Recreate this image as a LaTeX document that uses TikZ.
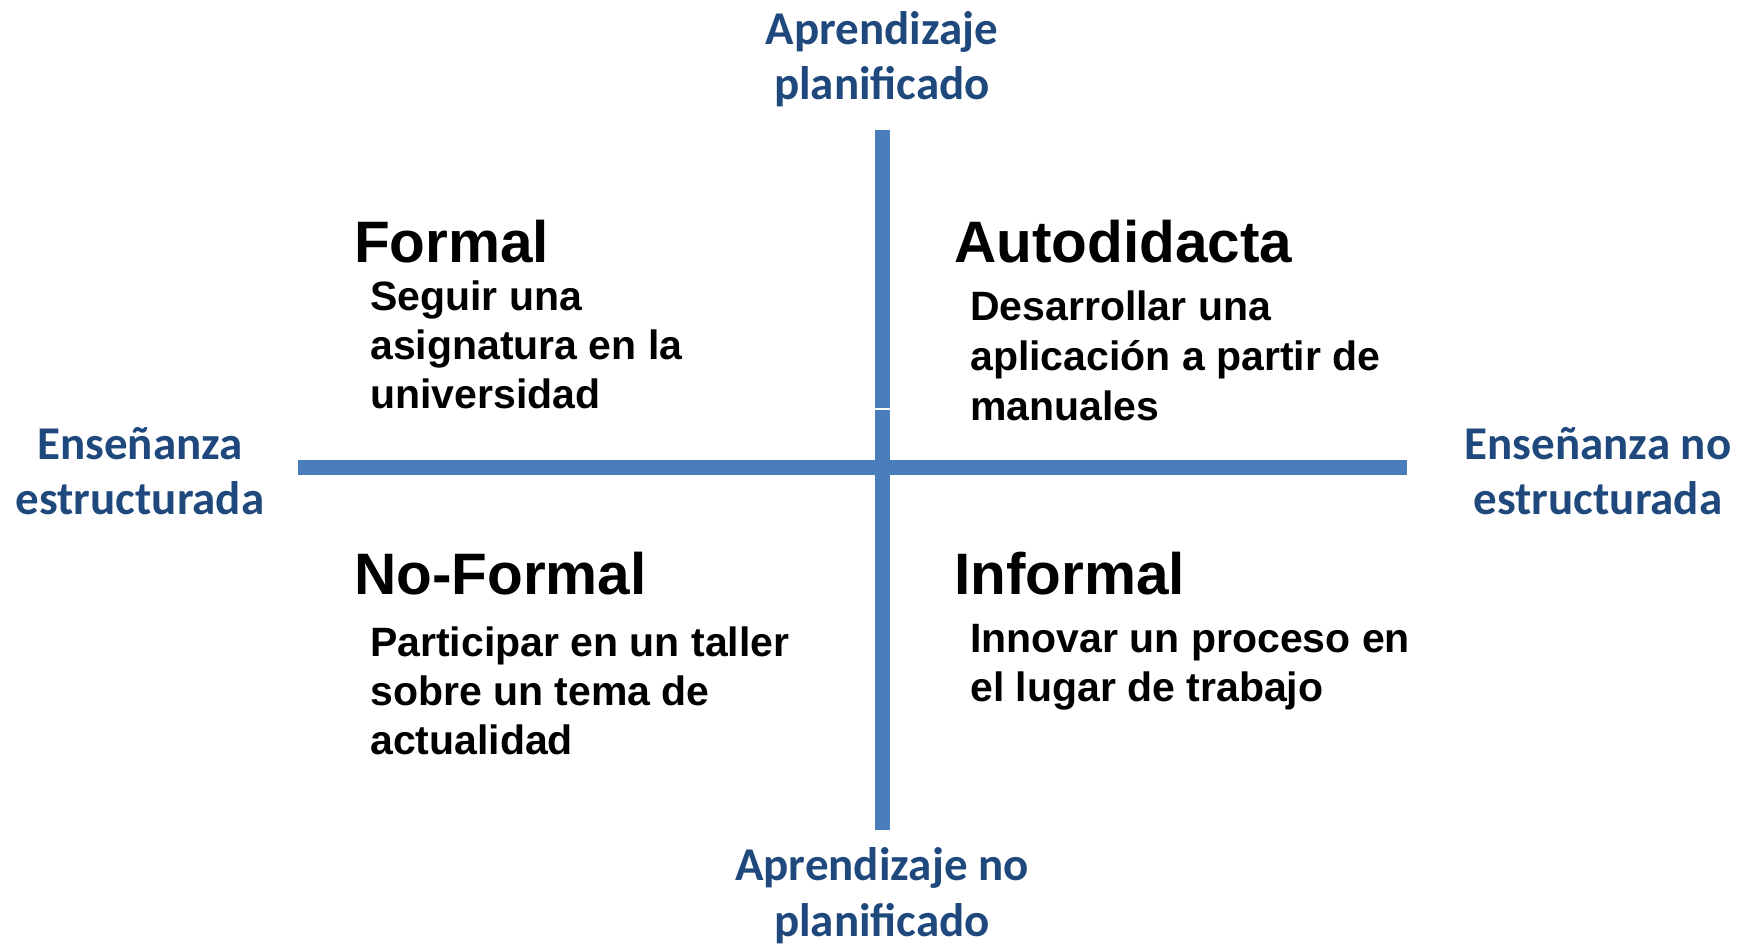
\documentclass[tikz,border=0pt]{standalone}
\usepackage{fontspec}
\setmainfont{Liberation Sans}
\newfontfamily\calfont{Carlito}
\definecolor{axisblue}{HTML}{4A7EBB}
\definecolor{labelblue}{HTML}{1F497D}
\begin{document}
\begin{tikzpicture}[x=1pt,y=-1pt,
  axis/.style={draw=axisblue,line width=15pt},
  lbl/.style={inner sep=0pt,anchor=base,text=labelblue,font=\calfont\bfseries\fontsize{47}{55}\selectfont},
  ttl/.style={inner sep=0pt,anchor=base west,font=\bfseries\fontsize{58.5}{66}\selectfont},
  body/.style={inner sep=0pt,anchor=base west,font=\bfseries\fontsize{41}{49}\selectfont}]
\useasboundingbox (0,0) rectangle (1744,943);
% axes
\coordinate (vt) at (882.5,130);
\coordinate (vm1) at (882.5,408);
\coordinate (vm2) at (882.5,409.5);
\coordinate (vb) at (882.5,830);
\coordinate (hl) at (298,467.5);
\coordinate (hr) at (1407,467.5);
\draw[axis] (vt) -- (vm1);
\draw[axis] (vm2) -- (vb);
\draw[axis] (hl) -- (hr);
% axis labels
\node[lbl] (t1) at (882,44) {Aprendizaje};
\node[lbl] (t2) at (882,99) {planificado};
\node[lbl] (b1) at (882,880) {Aprendizaje no};
\node[lbl] (b2) at (882,936) {planificado};
\node[lbl] (l1) at (140,459) {Enseñanza};
\node[lbl] (l2) at (140,514) {estructurada};
\node[lbl] (r1) at (1598,459) {Enseñanza no};
\node[lbl] (r2) at (1598,514) {estructurada};
% quadrant titles
\node[ttl] (qf) at (354,262) {Formal};
\node[ttl] (qa) at (954,262) {Autodidacta};
\node[ttl] (qn) at (354,594) {No-Formal};
\node[ttl] (qi) at (954,594) {Informal};
% quadrant texts
\node[body] (f1) at (370,310) {Seguir una};
\node[body] (f2) at (370,359) {asignatura en la};
\node[body] (f3) at (370,408) {universidad};
\node[body] (a1) at (970,320) {Desarrollar una};
\node[body] (a2) at (970,370) {aplicación a partir de};
\node[body] (a3) at (970,420) {manuales};
\node[body] (n1) at (370,656) {Participar en un taller};
\node[body] (n2) at (370,705) {sobre un tema de};
\node[body] (n3) at (370,754) {actualidad};
\node[body] (i1) at (970,652) {Innovar un proceso en};
\node[body] (i2) at (970,701) {el lugar de trabajo};
\end{tikzpicture}
\end{document}
